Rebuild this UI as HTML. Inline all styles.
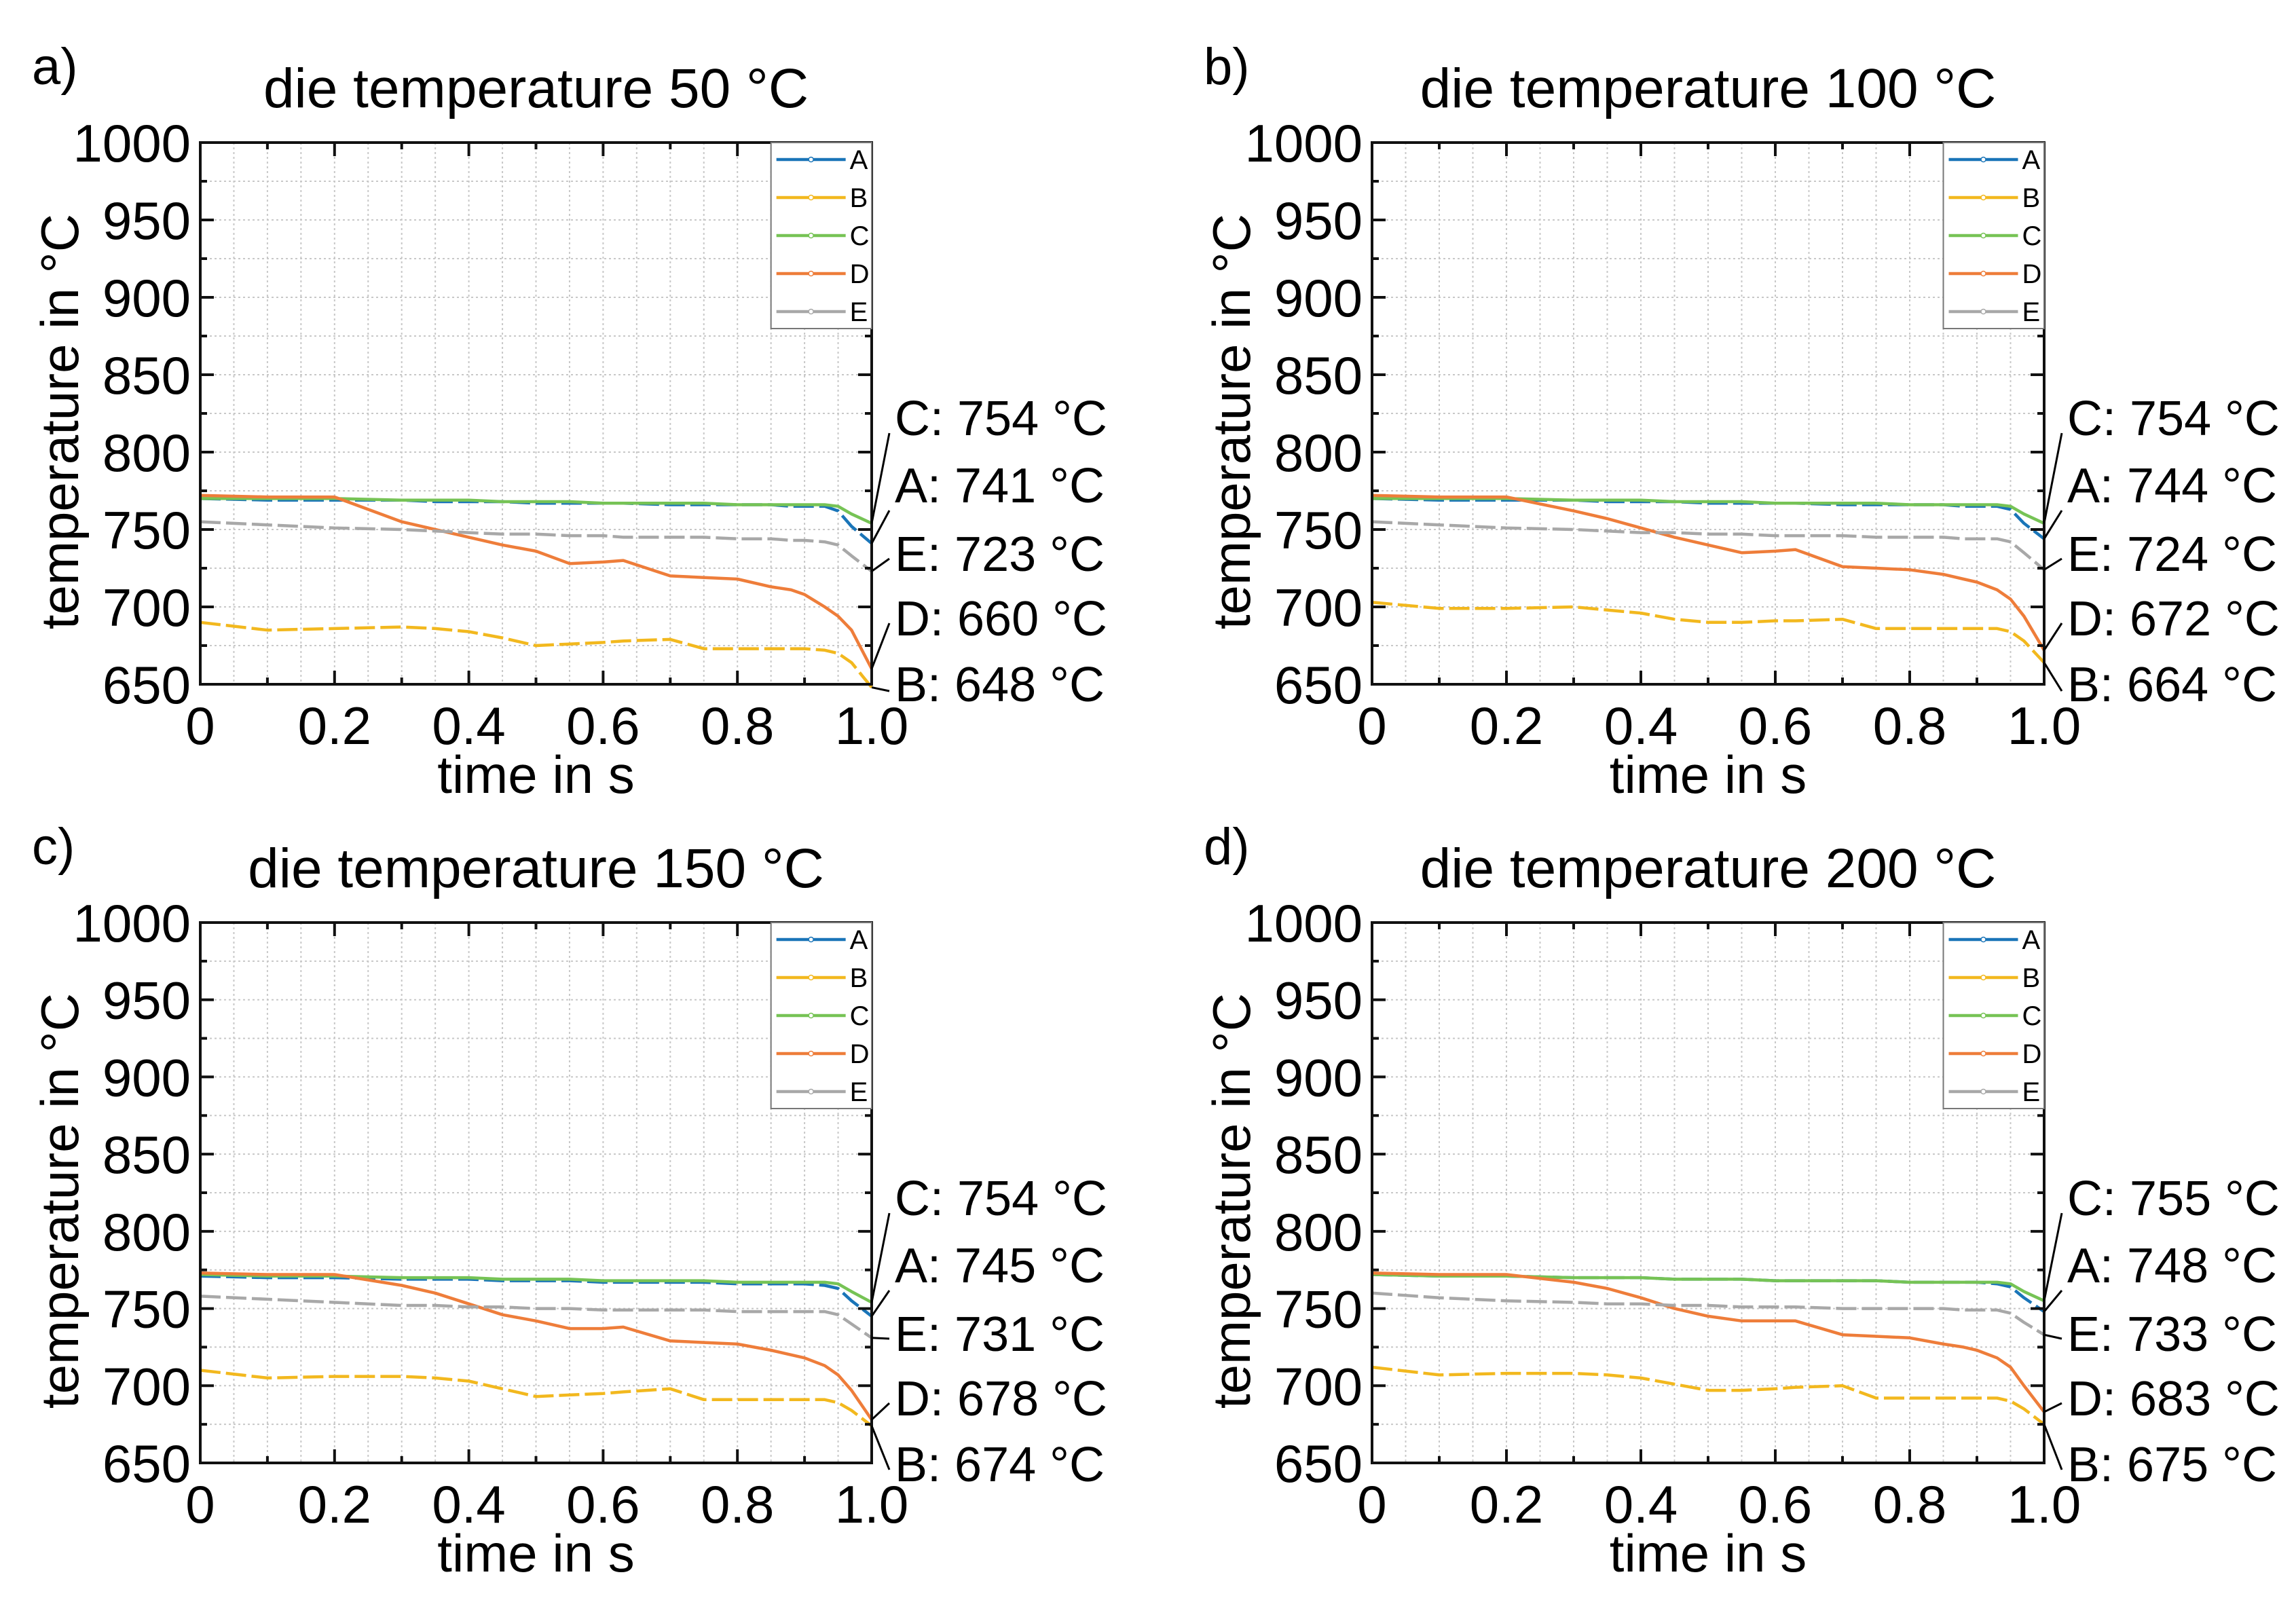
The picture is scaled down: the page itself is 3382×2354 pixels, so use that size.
<!DOCTYPE html>
<html><head><meta charset="utf-8"><style>
html,body{margin:0;padding:0;background:#fff;}
svg{display:block;font-family:"Liberation Sans",Arial,sans-serif;}
</style></head><body>
<svg id="fig" width="3382" height="2354" viewBox="0 0 3382 2354" xmlns="http://www.w3.org/2000/svg"></svg>
<script>
const times = [0,0.1,0.2,0.3,0.35,0.4,0.45,0.5,0.55,0.6,0.63,0.7,0.75,0.8,0.85,0.88,0.9,0.93,0.95,0.97,1.0];
const seriesNames = ["A","B","C","D","E"];
const panelTitles = ["die temperature 50 °C","die temperature 100 °C","die temperature 150 °C","die temperature 200 °C"];
const panelLetters = ["a)","b)","c)","d)"];
const aA=[770,769,769,769,768,768,768,767,767,767,767,766,766,766,766,765,765,765,762,752,741];
const aB=[690,685,686,687,686,684,680,675,676,677,678,679,673,673,673,673,673,672,670,664,648];
const aC=[770,770,770,769,769,769,768,768,768,767,767,767,767,766,766,766,766,766,765,760,754];
const aD=[772,771,771,755,750,745,740,736,728,729,730,720,719,718,713,711,708,700,694,685,660];
const aE=[755,753,751,750,749,748,747,747,746,746,745,745,745,744,744,743,743,742,740,733,723];
const bA=[770,769,769,769,768,768,768,767,767,767,767,766,766,766,766,765,765,765,763,754,744];
const bB=[703,699,699,700,698,696,692,690,690,691,691,692,686,686,686,686,686,686,684,678,664];
const bC=[770,770,770,769,769,769,768,768,768,767,767,767,767,766,766,766,766,766,765,760,754];
const bD=[772,771,771,762,757,751,745,740,735,736,737,726,725,724,721,718,716,711,705,694,672];
const bE=[755,753,751,750,749,748,748,747,747,746,746,746,745,745,745,744,744,744,742,735,724];
const cA=[771,770,770,769,769,769,768,768,768,767,767,767,767,766,766,766,766,765,763,755,745];
const cB=[710,705,706,706,705,703,698,693,694,695,696,698,691,691,691,691,691,691,689,684,674];
const cC=[772,771,771,770,770,770,769,769,769,768,768,768,768,767,767,767,767,767,766,761,754];
const cD=[773,772,772,765,760,753,746,742,737,737,738,729,728,727,723,720,718,713,707,697,678];
const cE=[758,756,754,752,752,751,751,750,750,749,749,749,749,748,748,748,748,748,746,740,731];
const dA=[772,771,771,770,770,770,769,769,769,768,768,768,768,767,767,767,767,766,764,757,748];
const dB=[712,707,708,708,707,705,701,697,697,698,699,700,692,692,692,692,692,692,690,685,675];
const dC=[772,771,771,770,770,770,769,769,769,768,768,768,768,767,767,767,767,767,766,761,755];
const dD=[773,772,772,767,763,757,750,745,742,742,742,733,732,731,727,725,723,718,712,700,683];
const dE=[760,757,755,754,753,753,752,752,751,751,751,750,750,750,750,749,749,749,747,741,733];
const panelValues = [[aA,aB,aC,aD,aE],[bA,bB,bC,bD,bE],[cA,cB,cC,cD,cE],[dA,dB,dC,dD,dE]];
const finalLabels = [["C: 754 °C","A: 741 °C","E: 723 °C","D: 660 °C","B: 648 °C"],
  ["C: 754 °C","A: 744 °C","E: 724 °C","D: 672 °C","B: 664 °C"],
  ["C: 754 °C","A: 745 °C","E: 731 °C","D: 678 °C","B: 674 °C"],
  ["C: 755 °C","A: 748 °C","E: 733 °C","D: 683 °C","B: 675 °C"]];
const yTicks = [650,700,750,800,850,900,950,1000];
const xTickLabels = ["0","0.2","0.4","0.6","0.8","1.0"];

const colors = {A:"#1a75b8",B:"#f2b81e",C:"#76c355",D:"#ee7d3a",E:"#a8a8a8"};
const dashes = {A:"30 8",B:"30 8",C:"none",D:"none",E:"30 8"};
const NS="http://www.w3.org/2000/svg";
const svg=document.getElementById('fig');
function mk(tag,attrs,parent){const e=document.createElementNS(NS,tag);for(const k in attrs)e.setAttribute(k,attrs[k]);(parent||svg).appendChild(e);return e;}

const layouts=[{l:295,r:1284,t:210,b:1008},{l:2021,r:3011,t:210,b:1008},{l:295,r:1284,t:1359,b:2155},{l:2021,r:3011,t:1359,b:2155}];
const labelOrder=["C","A","E","D","B"];

layouts.forEach((L,p)=>{
  const g=mk('g',{});
  
  
  const X=v=>L.l+(v-0)/(1-0)*(L.r-L.l);
  const Y=v=>L.b-(v-650)/(1000-650)*(L.b-L.t);
  for(let i=1;i<20;i++){const x=X(i*0.05);const gl=mk('line',{x1:x,x2:x,y1:L.t,y2:L.b,stroke:"#c8c8c8","stroke-width":2,"stroke-dasharray":"3 4"},g);}
  for(let v=675;v<1000;v+=25){const y=Y(v);const gl=mk('line',{x1:L.l,x2:L.r,y1:y,y2:y,stroke:"#c8c8c8","stroke-width":2,"stroke-dasharray":"3 4"},g);}
  seriesNames.forEach((s,si)=>{
    const vals=panelValues[p][si];
    const d=vals.map((v,i)=>(i?'L':'M')+X(times[i]).toFixed(1)+','+Y(v).toFixed(1)).join(' ');
    const pl=mk('path',{d:d,fill:"none",stroke:colors[s],"stroke-width":4.5,"stroke-dasharray":dashes[s],"stroke-linejoin":"round"},g);
    
    
  });
  const fr=mk('rect',{x:L.l,y:L.t,width:L.r-L.l,height:L.b-L.t,fill:"none",stroke:"#111","stroke-width":4},g);
  
  for(let i=0;i<=10;i++){const x=X(i/10);const len=i%2?10:20;
    mk('line',{x1:x,x2:x,y1:L.b,y2:L.b-len,stroke:"#111","stroke-width":4},g);
    mk('line',{x1:x,x2:x,y1:L.t,y2:L.t+len,stroke:"#111","stroke-width":4},g);}
  xTickLabels.forEach((t,i)=>{const tx=mk('text',{x:X(i*0.2),y:L.b+88,"font-size":78,"text-anchor":"middle",fill:"#000"},g);tx.textContent=t;
    });
  for(let v=650;v<=1000;v+=25){const y=Y(v);const len=(v%50)?10:20;
    mk('line',{x1:L.l,x2:L.l+len,y1:y,y2:y,stroke:"#111","stroke-width":4},g);
    mk('line',{x1:L.r,x2:L.r-len,y1:y,y2:y,stroke:"#111","stroke-width":4},g);}
  yTicks.forEach(v=>{const tx=mk('text',{x:L.l-14,y:Y(v)+28,"font-size":78,"text-anchor":"end",fill:"#000"},g);tx.textContent=String(v);
    });
  const xt=mk('text',{x:(L.l+L.r)/2,y:L.b+160,"font-size":78,"text-anchor":"middle",fill:"#000"},g);xt.textContent="time in s";
  
  const yc=(L.t+L.b)/2+12, yx=L.l-180;
  const yt=mk('text',{x:yx,y:yc,"font-size":78,"text-anchor":"middle",fill:"#000",transform:`rotate(-90 ${yx} ${yc})`},g);yt.textContent="temperature in °C";
  
  const tt=mk('text',{x:(L.l+L.r)/2,y:L.t-52,"font-size":82,"text-anchor":"middle",fill:"#000"},g);tt.textContent=panelTitles[p];
  
  const lt=mk('text',{x:L.l-248,y:L.t-86,"font-size":76,fill:"#000"},g);lt.textContent=panelLetters[p];
  
  const lg=mk('g',{},g);
  const lx=L.l+(L.r-L.l)*0.85;
  mk('rect',{x:lx,y:L.t,width:L.r-lx,height:274,fill:"#fff",stroke:"#777","stroke-width":2},lg);
  seriesNames.forEach((s,si)=>{const y=L.t+25+si*56;
    const e=mk('g',{},lg);
    mk('line',{x1:lx+8,x2:lx+110,y1:y,y2:y,stroke:colors[s],"stroke-width":4.5},e);
    mk('circle',{cx:lx+59,cy:y,r:3.5,fill:"#fff",stroke:colors[s],"stroke-width":1.5},e);
    const t=mk('text',{x:lx+116,y:y+14,"font-size":40,fill:"#000"},e);t.textContent=s;});
  const anchors={C:428,A:542,E:613,D:708,B:(L.b-L.t)+10};
  const bases=[429,528,629,724,821];
  labelOrder.forEach((s,k)=>{const si=seriesNames.indexOf(s);const vals=panelValues[p][si];
    const ln=mk('line',{x1:L.r,y1:Y(vals[vals.length-1]),x2:L.r+26,y2:L.t+anchors[s],stroke:"#000","stroke-width":3},g);
    
    const t=mk('text',{x:L.r+34,y:L.t+bases[k]+2,"font-size":72,fill:"#000"},g);t.textContent=finalLabels[p][k];
    });
});
</script>
</body></html>
